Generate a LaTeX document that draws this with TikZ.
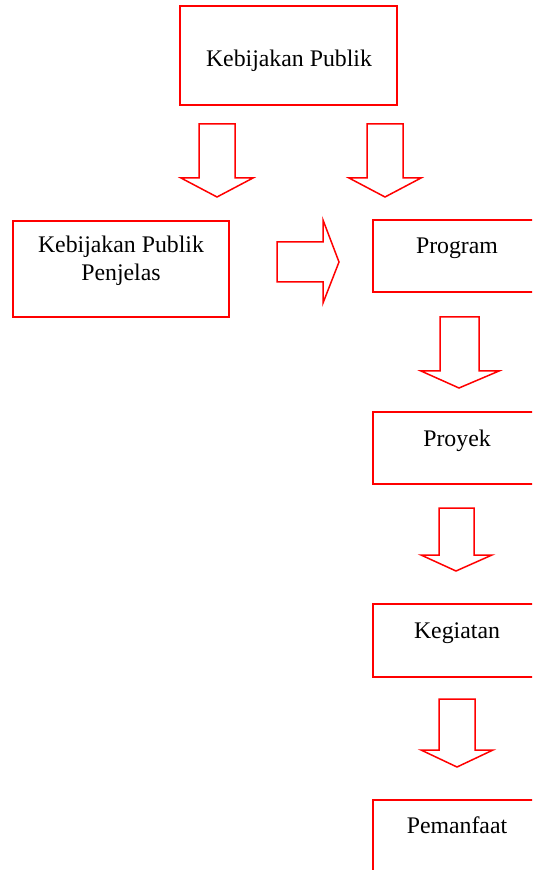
\documentclass[tikz,border=0pt]{standalone}
\usepackage{fontspec}
\setmainfont{Liberation Serif}
\begin{document}
\begin{tikzpicture}[x=0.5pt,y=-0.5pt,
  box/.style={draw=red,line width=0.75pt},
  blockarrow/.style={draw=red,line width=0.75pt,line join=miter},
  label/.style={font=\fontsize{11.9}{14}\selectfont,anchor=base,align=center,inner sep=0pt}]
\useasboundingbox (0,0) rectangle (532,870);
\clip (0,0) rectangle (532,870);

% boxes
\draw[box] (180,6) rectangle (397,105);
\draw[box] (13,221) rectangle (229,317);
\draw[box] (373,220) rectangle (541,292);
\draw[box] (373,412) rectangle (541,484);
\draw[box] (373,604) rectangle (541,677);
\draw[box] (373,800) rectangle (541,900);

% labels
\node[label] (kp) at (289,67) {Kebijakan Publik};
\node[label] (kpp1) at (121,253) {Kebijakan Publik};
\node[label] (kpp2) at (121,281) {Penjelas};
\node[label] (prog) at (457,254) {Program};
\node[label] (proy) at (457,446) {Proyek};
\node[label] (keg) at (457,638) {Kegiatan};
\node[label] (pem) at (457,833) {Pemanfaat};

% block arrows pointing down
\draw[blockarrow] (199,124) -- (235,124) -- (235,178) -- (253,178) -- (217,197)
  -- (181,178) -- (199,178) -- cycle;
\draw[blockarrow] (367,124) -- (403,124) -- (403,178) -- (421,178) -- (385,197)
  -- (349,178) -- (367,178) -- cycle;
\draw[blockarrow] (440,317) -- (479,317) -- (479,371) -- (499,371) -- (459,388)
  -- (421,371) -- (440,371) -- cycle;
\draw[blockarrow] (439,508) -- (474,508) -- (474,555) -- (492,555) -- (456,571)
  -- (421,555) -- (439,555) -- cycle;
\draw[blockarrow] (439,699) -- (475,699) -- (475,750) -- (493,750) -- (457,767)
  -- (421,750) -- (439,750) -- cycle;

% block arrow pointing right
\draw[blockarrow] (277,242) -- (323,242) -- (323,220) -- (339,262) -- (323,303)
  -- (323,282) -- (277,282) -- cycle;
\end{tikzpicture}
\end{document}
